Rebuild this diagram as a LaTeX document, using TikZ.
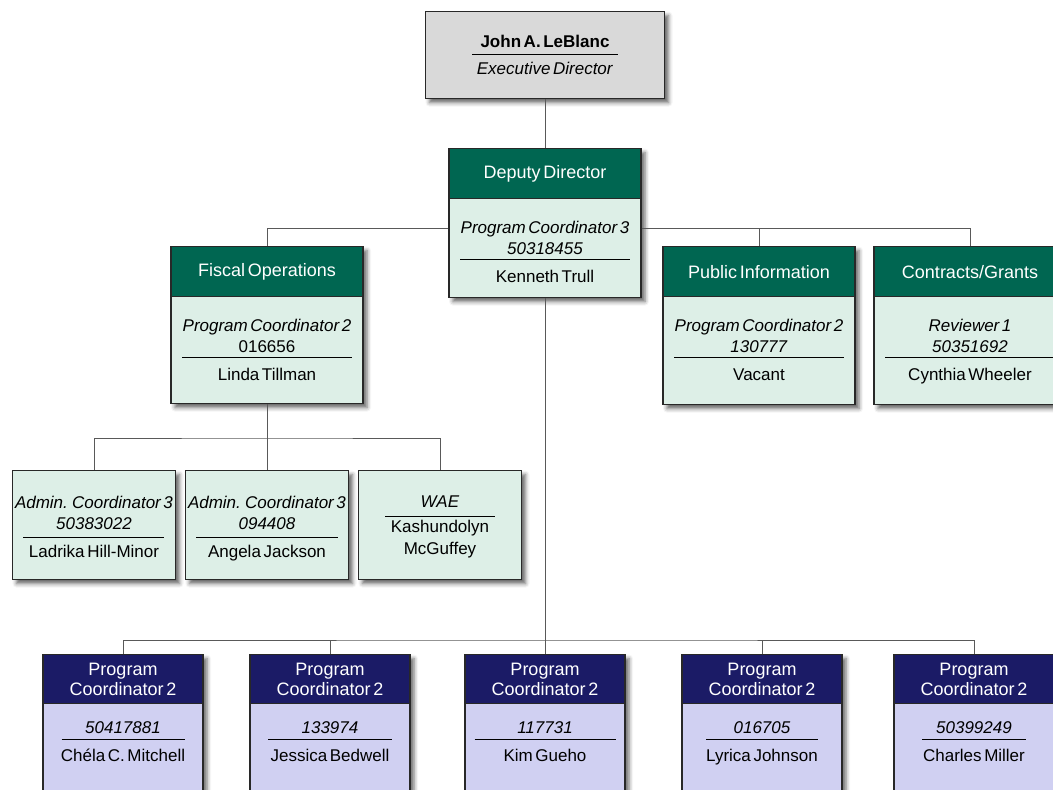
\documentclass[tikz,border=0pt]{standalone}
\usepackage{fontspec}
\setmainfont{Liberation Sans}[WordSpace=0.55]
\usepackage{xcolor}
\usetikzlibrary{positioning,shadows.blur}

\definecolor{hdgreen}{RGB}{0,102,81}
\definecolor{bdgreen}{RGB}{221,239,231}
\definecolor{hdnavy}{RGB}{27,27,102}
\definecolor{bdnavy}{RGB}{208,208,242}
\definecolor{topgray}{RGB}{217,217,217}
\definecolor{edge}{RGB}{40,40,40}

\begin{document}
\begin{tikzpicture}[x=1pt, y=-1pt,
    box/.style={rectangle, draw=edge, line width=1.3pt, minimum width=192pt, inner sep=0pt, anchor=north,
      blur shadow={shadow xshift=4pt, shadow yshift=-4pt, shadow blur radius=4pt, shadow opacity=60}},
    gbox/.style={box, fill=bdgreen, minimum height=158pt},
    abox/.style={box, fill=bdgreen, minimum width=163pt, minimum height=109pt},
    nbox/.style={box, fill=bdnavy, minimum width=160pt, minimum height=160pt},
    head/.style={rectangle, draw=edge, line width=1.3pt, anchor=north, inner sep=0pt, text=white, align=center},
    ghead/.style={head, fill=hdgreen, minimum width=192pt, minimum height=50pt, font=\fontsize{18}{21}\selectfont},
    nhead/.style={head, fill=hdnavy, minimum width=160pt, minimum height=49pt, font=\fontsize{18}{20}\selectfont},
    info/.style={inner sep=0pt, align=center, font=\fontsize{17}{21}\selectfont},
    link/.style={draw=black!65, line width=1pt}
  ]
    \useasboundingbox (0,0) rectangle (1053,790);

    \node[box, fill=topgray, minimum width=239pt, minimum height=87pt] (exec) at (545,11) {};
    \node[info, below=24pt of exec.north] (exec-txt) {\textbf{John A. LeBlanc}\\[-14pt]\rule{146pt}{0.8pt}\\[-1pt]\textit{Executive Director}};

    \node[gbox, minimum height=149pt] (dep) at (545,148) {};
    \node[ghead] (dep-head) at (dep.north) {Deputy Director};
    \node[info, below=22pt of dep-head] (dep-txt) {\textit{Program Coordinator 3}\\\textit{50318455}\\[-16pt]\rule{170pt}{0.8pt}\\[2pt]Kenneth Trull};

    \node[gbox, minimum height=157pt] (fisc) at (267,246) {};
    \node[ghead] (fisc-head) at (fisc.north) {Fiscal Operations};
    \node[info, below=22pt of fisc-head] (fisc-txt) {\textit{Program Coordinator 2}\\016656\\[-16pt]\rule{170pt}{0.8pt}\\[2pt]Linda Tillman};

    \node[gbox] (pub) at (759,246) {};
    \node[ghead] (pub-head) at (pub.north) {Public Information};
    \node[info, below=22pt of pub-head] (pub-txt) {\textit{Program Coordinator 2}\\\textit{130777}\\[-16pt]\rule{170pt}{0.8pt}\\[2pt]Vacant};

    \node[gbox] (cont) at (970,246) {};
    \node[ghead] (cont-head) at (cont.north) {Contracts/Grants};
    \node[info, below=22pt of cont-head] (cont-txt) {\textit{Reviewer 1}\\\textit{50351692}\\[-16pt]\rule{170pt}{0.8pt}\\[2pt]Cynthia Wheeler};

    \node[abox] (ac1) at (94,470) {};
    \node[info, below=26pt of ac1.north] (ac1-txt) {\textit{Admin. Coordinator 3}\\\textit{50383022}\\[-12.5pt]\rule{141pt}{0.8pt}\\[-2pt]Ladrika Hill-Minor};
    \node[abox] (ac2) at (267,470) {};
    \node[info, below=26pt of ac2.north] (ac2-txt) {\textit{Admin. Coordinator 3}\\\textit{094408}\\[-12.5pt]\rule{142pt}{0.8pt}\\[-2pt]Angela Jackson};
    \node[abox] (wae) at (440,470) {};
    \node[info, below=26pt of wae.north] (wae-txt) {\textit{WAE}\\[-12.5pt]\rule{110pt}{0.8pt}\\[-4.5pt]Kashundolyn\\[1pt]McGuffey};

    \node[nbox] (pc1) at (123,654) {};
    \node[nhead] (pc1-head) at (pc1.north) {Program\\Coordinator 2};
    \node[info, below=17pt of pc1-head] (pc1-txt) {\textit{50417881}\\[-15pt]\rule{123pt}{0.8pt}\\[1pt]Chéla C. Mitchell};
    \node[nbox] (pc2) at (330,654) {};
    \node[nhead] (pc2-head) at (pc2.north) {Program\\Coordinator 2};
    \node[info, below=17pt of pc2-head] (pc2-txt) {\textit{133974}\\[-15pt]\rule{124pt}{0.8pt}\\[1pt]Jessica Bedwell};
    \node[nbox] (pc3) at (545,654) {};
    \node[nhead] (pc3-head) at (pc3.north) {Program\\Coordinator 2};
    \node[info, below=17pt of pc3-head] (pc3-txt) {\textit{117731}\\[-15pt]\rule{141pt}{0.8pt}\\[1pt]Kim Gueho};
    \node[nbox] (pc4) at (762,654) {};
    \node[nhead] (pc4-head) at (pc4.north) {Program\\Coordinator 2};
    \node[info, below=17pt of pc4-head] (pc4-txt) {\textit{016705}\\[-15pt]\rule{112pt}{0.8pt}\\[1pt]Lyrica Johnson};
    \node[nbox] (pc5) at (974,654) {};
    \node[nhead] (pc5-head) at (pc5.north) {Program\\Coordinator 2};
    \node[info, below=17pt of pc5-head] (pc5-txt) {\textit{50399249}\\[-15pt]\rule{104pt}{0.8pt}\\[1pt]Charles Miller};

    \coordinate (fbus) at (267,438);
    \coordinate (pbus) at (545,640);

    \draw[link] (exec.south) -- (dep.north);
    \draw[link] ([yshift=-5pt]dep.west) -| (fisc.north);
    \draw[link] ([yshift=-5pt]dep.east) -| (pub.north);
    \draw[link] ([yshift=-5pt]dep.east) -| (cont.north);
    \draw[link] (fisc.south) -- (ac2.north);
    \draw[link] (ac1.north) |- (fbus) -| (wae.north);
    \draw[link] (dep.south) -- (pc3.north);
    \draw[link] (pc1.north) |- (pbus) -| (pc5.north);
    \draw[link] (pc2.north) -- (pc2.north |- pbus);
    \draw[link] (pc4.north) -- (pc4.north |- pbus);
  \end{tikzpicture}
\end{document}
